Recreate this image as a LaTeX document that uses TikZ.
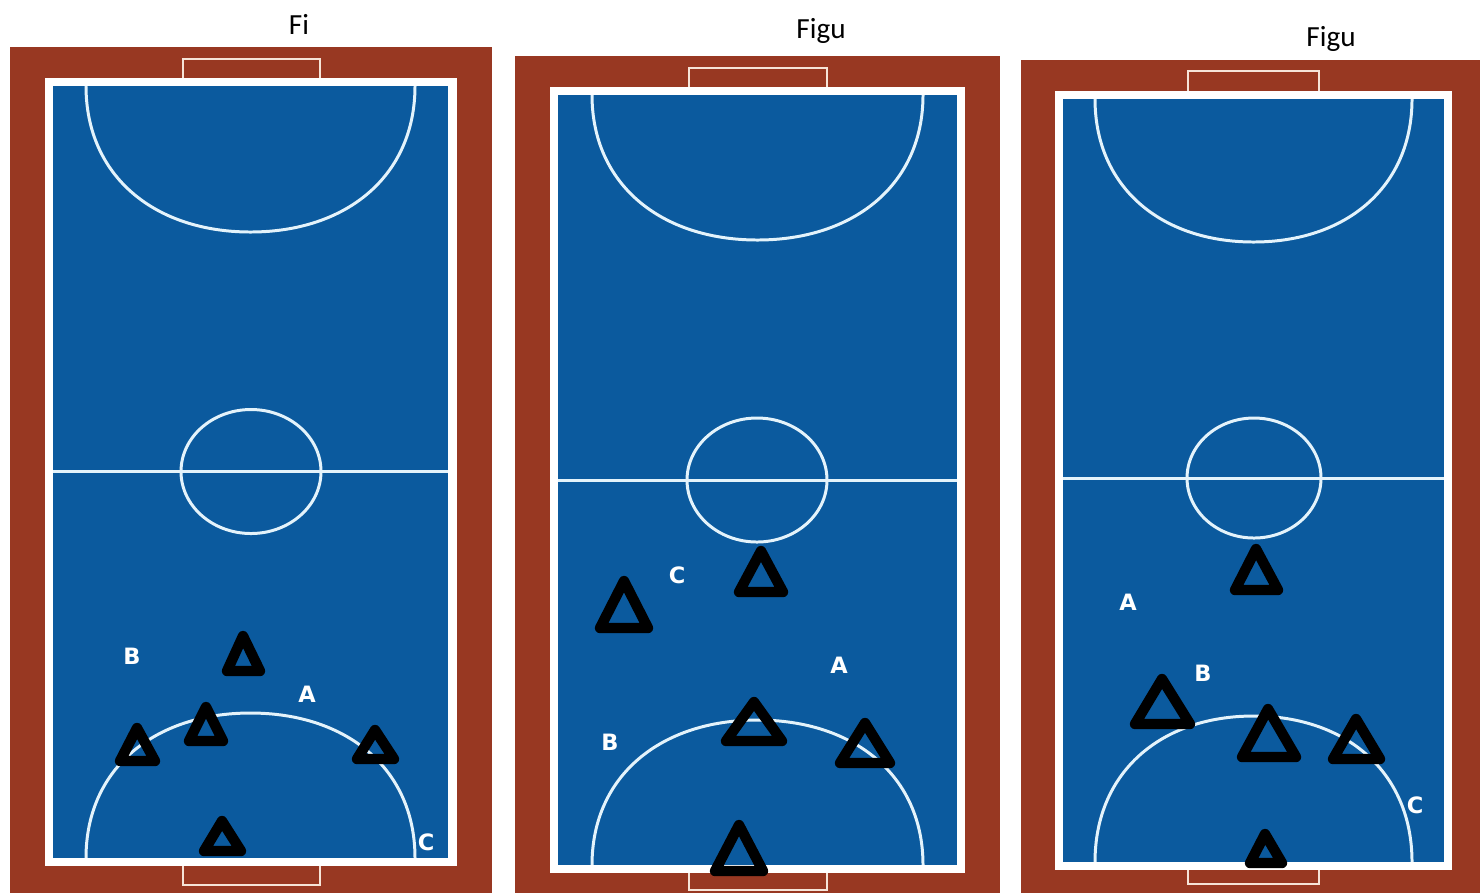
\documentclass[tikz,border=0pt]{standalone}
\usepackage{fontspec}
\setmainfont{Carlito}
\newfontfamily\labelfont{DejaVu Sans}
\definecolor{trackred}{HTML}{983822}
\definecolor{courtblue}{HTML}{0B5A9E}
\definecolor{paleline}{HTML}{E4F3FB}
\definecolor{goalline}{HTML}{F6E4D8}
\tikzset{
    whiteline/.style={draw=paleline, line width=0.85pt},
    goalbox/.style={draw=goalline, line width=0.8pt},
    borderline/.style={draw=white, line width=2.3pt},
    cone/.style={draw=black, line width=2.95pt, line join=round},
    letter/.style={text=white, font=\labelfont\bfseries\fontsize{6.4}{7}\selectfont, inner sep=0pt},
    figtitle/.style={text=black, font=\fontsize{8.3}{10}\selectfont, inner sep=0pt}
}

\begin{document}
\begin{tikzpicture}[x=0.01cm,y=-0.01cm]
\useasboundingbox (0,0) rectangle (1480,893);
% courts
\foreach \outL/\outT/\outR/\wL/\wT/\wR/\wB/\goalL/\goalR/\goalT/\goalB/\arcL/\arcR/\arcT/\arcB/\midX/\midY/\radX/\radY/\inL/\inR/\inT/\inB in {
    10/47/492/49/82/452.5/862/183/320/59/885/86/415/232/713/251/471.5/70/62/53/448/86/858,
    515/56/1000/554/91/961/869/689/827/68/890/592/923/240/720/757/480/70/62/558/957/95/865,
    1021/60/1480/1059/95/1448/866/1188/1319/71/884/1095/1412/242/716/1254/478/67/60/1063/1444/99/862}{
    \fill[trackred] (\outL,\outT) rectangle (\outR,893);
    \fill[courtblue] (\wL,\wT) rectangle (\wR,\wB);
    % goals
    \draw[goalbox] (\goalL,\wT) -- (\goalL,\goalT) -- (\goalR,\goalT) -- (\goalR,\wT);
    \draw[goalbox] (\goalL,\wB) -- (\goalL,\goalB) -- (\goalR,\goalB) -- (\goalR,\wB);
    % penalty areas
    \pgfmathsetmacro\arcX{(\arcL + \arcR)/2};
    \pgfmathsetmacro\arcRad{(\arcR - \arcL)/2};
    \pgfmathsetmacro\topRad{\arcT - \inT};
    \pgfmathsetmacro\lowRad{\inB - \arcB};
    \draw[whiteline] (\arcL,\inT) .. controls (\arcL,\inT + 0.62*\topRad) and (\arcX - 0.58*\arcRad,\arcT) .. (\arcX,\arcT)
        .. controls (\arcX + 0.58*\arcRad,\arcT) and (\arcR,\inT + 0.62*\topRad) .. (\arcR,\inT);
    \draw[whiteline] (\arcL,\inB) .. controls (\arcL,\inB - 0.62*\lowRad) and (\arcX - 0.58*\arcRad,\arcB) .. (\arcX,\arcB)
        .. controls (\arcX + 0.58*\arcRad,\arcB) and (\arcR,\inB - 0.62*\lowRad) .. (\arcR,\inB);
    % middle
    \draw[whiteline] (\inL,\midY) -- (\inR,\midY);
    \draw[whiteline] (\midX,\midY) ellipse [x radius=\radX, y radius=\radY];
    \draw[borderline] (\wL,\wT) rectangle (\wR,\wB);
}
% cones
\foreach \tipX/\tipY/\baseL/\baseR/\baseY in {
    243/636/227/260/671, 206/707/189/223/741, 137/728/120/155/761,
    375/730/357/394/759, 222/821/204/241/851,
    761/551/739/783/592, 624/581/600/648/628, 754/702/726/782/741,
    865/723/840/890/763, 739/825/715/763/871,
    1256/549/1235/1278/590, 1162/679/1135/1190/724, 1268/709/1242/1296/757,
    1356/719/1333/1380/759, 1265/834/1250/1282/863}
    \draw[cone] (\tipX,\tipY) -- (\baseL,\baseY) -- (\baseR,\baseY) -- cycle;
% letters
\node[letter] (b1) at (132,656) {B};
\node[letter] (a1) at (307,694) {A};
\node[letter] (c1) at (426,842) {C};
\node[letter] (c2) at (677,575) {C};
\node[letter] (a2) at (839,665) {A};
\node[letter] (b2) at (610,742) {B};
\node[letter] (a3) at (1128,602) {A};
\node[letter] (b3) at (1203,673) {B};
\node[letter] (c3) at (1415,805) {C};
% titles
\node[figtitle] (title1) at (299,24) {Fi};
\node[figtitle] (title2) at (821,31) {Figu};
\node[figtitle] (title3) at (1331,39) {Figu};
\end{tikzpicture}
\end{document}
